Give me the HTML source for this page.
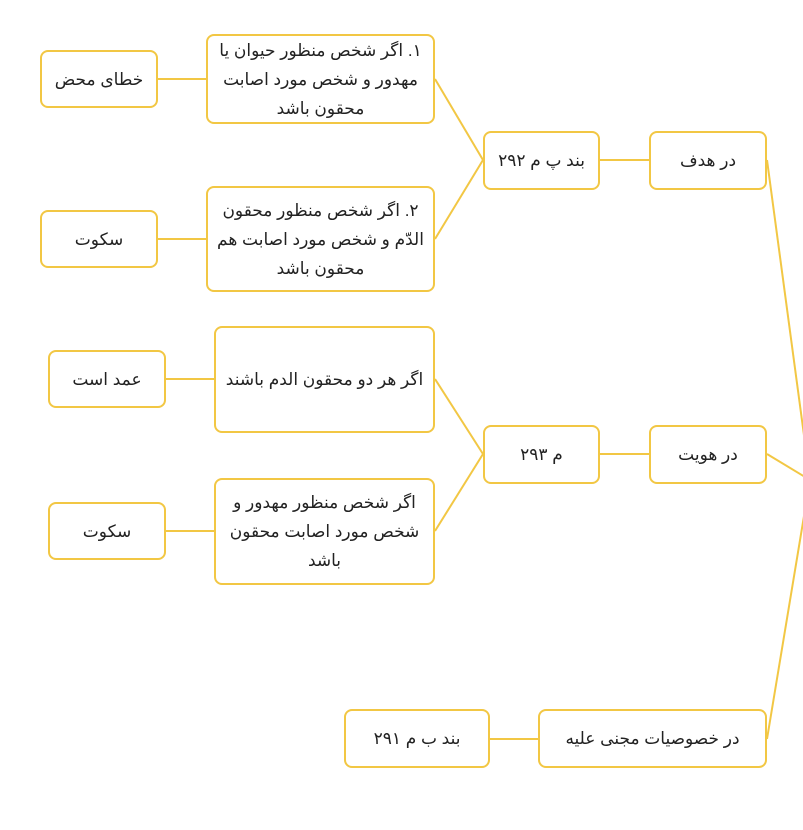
<!DOCTYPE html>
<html><head><meta charset="utf-8"><style>
body{margin:0;width:803px;height:830px;background:#fff;position:relative;overflow:hidden;font-family:"Liberation Sans","DejaVu Sans",sans-serif;}
.b{position:absolute;box-sizing:border-box;border:2px solid #f2c744;border-radius:8px;background:#fff;display:flex;align-items:center;justify-content:center;text-align:center;direction:rtl;font-size:17px;line-height:29px;color:#222;padding:0 5px;}
svg{position:absolute;left:0;top:0}
</style></head><body>
<svg width="803" height="830"><g stroke="#f2c744" stroke-width="2" fill="none">
<line x1="158" y1="79" x2="206" y2="79"/>
<line x1="435" y1="79" x2="483" y2="160"/>
<line x1="435" y1="239" x2="483" y2="160"/>
<line x1="158" y1="239" x2="206" y2="239"/>
<line x1="600" y1="160" x2="649" y2="160"/>
<line x1="767" y1="160" x2="810" y2="480"/>
<line x1="166" y1="379" x2="214" y2="379"/>
<line x1="166" y1="531" x2="214" y2="531"/>
<line x1="435" y1="379" x2="483" y2="454"/>
<line x1="435" y1="531" x2="483" y2="454"/>
<line x1="600" y1="454" x2="649" y2="454"/>
<line x1="767" y1="454" x2="810" y2="480"/>
<line x1="490" y1="739" x2="538" y2="739"/>
<line x1="767" y1="739" x2="810" y2="480"/>
</g></svg>
<div class="b" style="left:40px;top:50px;width:118px;height:58px">خطای محض</div>
<div class="b" style="left:206px;top:34px;width:229px;height:90px">۱. اگر شخص منظور حیوان یا مهدور و شخص مورد اصابت محقون باشد</div>
<div class="b" style="left:40px;top:210px;width:118px;height:58px">سکوت</div>
<div class="b" style="left:206px;top:186px;width:229px;height:106px">۲. اگر شخص منظور محقون الدّم و شخص مورد اصابت هم محقون باشد</div>
<div class="b" style="left:483px;top:131px;width:117px;height:59px">بند پ م ۲۹۲</div>
<div class="b" style="left:649px;top:131px;width:118px;height:59px">در هدف</div>
<div class="b" style="left:48px;top:350px;width:118px;height:58px">عمد است</div>
<div class="b" style="left:214px;top:326px;width:221px;height:107px">اگر هر دو محقون الدم باشند</div>
<div class="b" style="left:48px;top:502px;width:118px;height:58px">سکوت</div>
<div class="b" style="left:214px;top:478px;width:221px;height:107px">اگر شخص منظور مهدور و شخص مورد اصابت محقون باشد</div>
<div class="b" style="left:483px;top:425px;width:117px;height:59px">م ۲۹۳</div>
<div class="b" style="left:649px;top:425px;width:118px;height:59px">در هویت</div>
<div class="b" style="left:344px;top:709px;width:146px;height:59px">بند ب م ۲۹۱</div>
<div class="b" style="left:538px;top:709px;width:229px;height:59px">در خصوصیات مجنی علیه</div>
</body></html>
